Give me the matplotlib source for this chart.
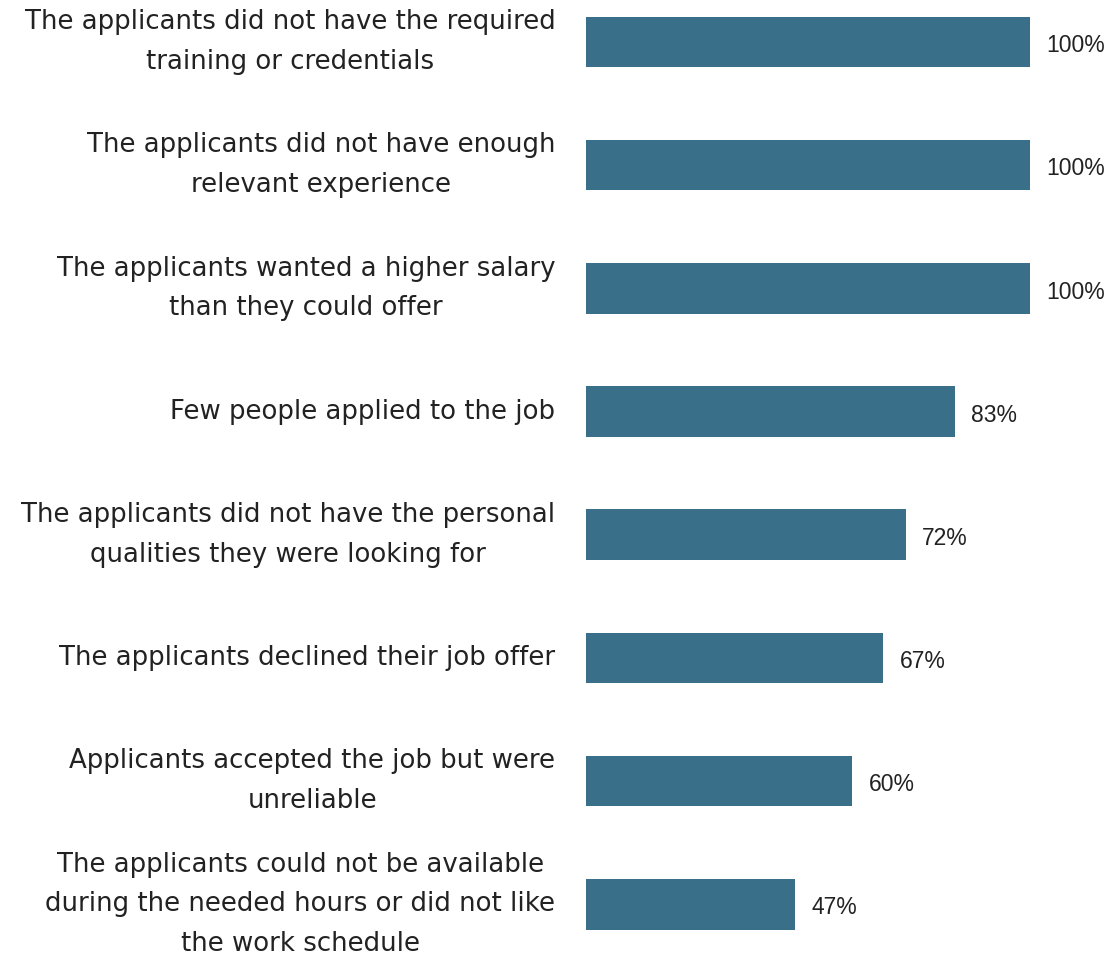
import numpy as np
import matplotlib.pyplot as plt

plt.rcParams['font.family'] = 'DejaVu Sans'

reasons = [
    "The applicants did not have the required\ntraining or credentials",
    "The applicants did not have enough\nrelevant experience",
    "The applicants wanted a higher salary\nthan they could offer",
    "Few people applied to the job",
    "The applicants did not have the personal\nqualities they were looking for",
    "The applicants declined their job offer",
    "Applicants accepted the job but were\nunreliable",
    "The applicants could not be available\nduring the needed hours or did not like\nthe work schedule",
]
shares = [100, 100, 100, 83, 72, 67, 60, 47]

fig = plt.figure(figsize=(11.11, 9.56), dpi=100)
ax = fig.add_axes([586 / 1111, 0, 444 / 1111, 1])

y = np.arange(len(reasons))
ax.barh(y, shares, height=0.41, color="#3a6f8a")
ax.set_xlim(0, 100)
ax.set_ylim(7.42, -0.341)

ax.set_yticks(y)
ax.set_yticklabels(reasons, fontsize=18.7, color="#222222", linespacing=1.68)
for lab in ax.get_yticklabels():
    lab.set_multialignment("center")
    lab.set_verticalalignment("center")
ax.tick_params(axis="y", length=0, pad=22)
ax.set_xticks([])
for s in ax.spines.values():
    s.set_visible(False)

for yi, v in zip(y, shares):
    ax.text(v + 3.7, yi + 0.03, f"{v}%", va="center", ha="left",
            fontsize=16.5, color="#222222", family="Liberation Sans")

fig.savefig("out.png", dpi=100)
